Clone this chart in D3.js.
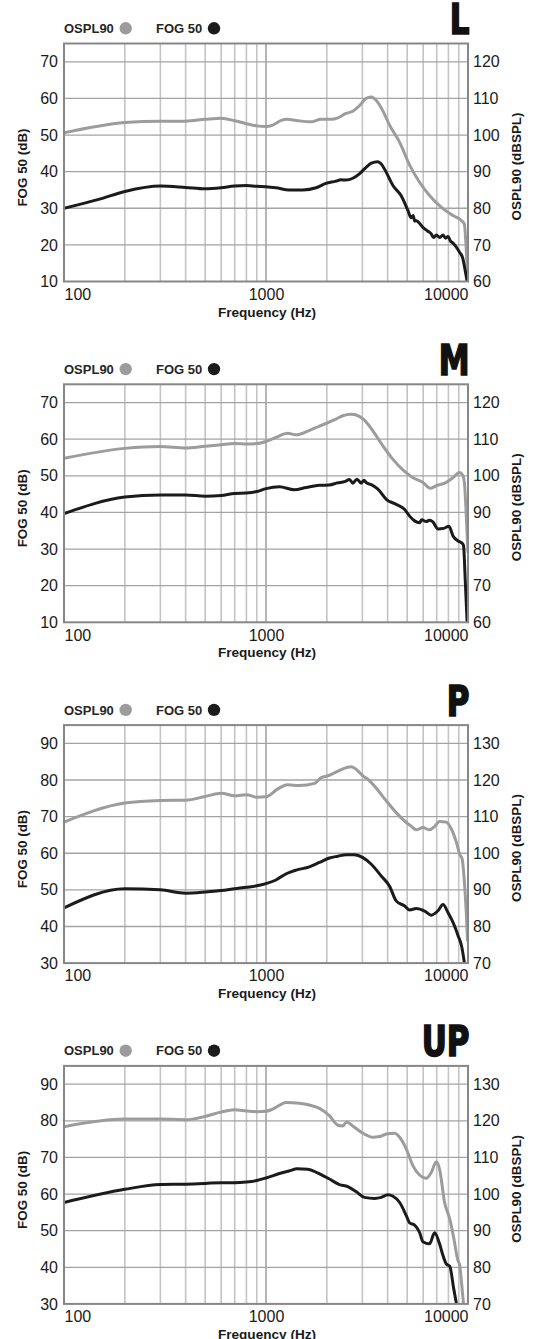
<!DOCTYPE html>
<html>
<head>
<meta charset="utf-8">
<script src="https://cdn.jsdelivr.net/npm/d3@7"></script>
<style>
  html, body { margin: 0; padding: 0; background: #fff; }
  svg { display: block; font-family: "Liberation Sans", Arial, Helvetica, sans-serif; }
</style>
</head>
<body>
<svg id="chart"></svg>
<script>
// values: [frequency Hz, dB]
const L_OSPL90 = [[100,100.6],[200,103.4],[300,103.8],[400,103.8],[500,104.3],[600,104.6],[700,103.9],[800,103.1],[900,102.5],[1000,102.3],[1080,102.7],[1190,104.0],[1280,104.3],[1410,104.0],[1670,103.6],[1870,104.3],[2100,104.3],[2270,104.7],[2490,105.9],[2690,106.5],[2900,108.0],[3130,110.0],[3320,110.4],[3510,109.5],[3790,106.6],[4090,102.7],[4590,98.0],[5140,91.8],[5760,87.1],[6450,83.5],[7370,80.3],[8430,78.0],[9300,76.6],[9600,75.6],[9750,71],[9900,64],[10000,60]];
const L_FOG50 = [[100,30.0],[150,32.5],[200,34.6],[300,36.1],[400,35.7],[500,35.3],[600,35.6],[700,36.1],[800,36.2],[900,36.0],[1000,35.9],[1120,35.6],[1300,35.0],[1520,35.0],[1770,35.6],[1980,36.8],[2220,37.4],[2350,37.8],[2490,37.7],[2690,38.2],[2900,39.4],[3130,41.2],[3320,42.3],[3580,42.7],[3720,42.1],[3940,39.8],[4250,36.2],[4670,33.4],[5040,29.4],[5230,27.4],[5350,28.0],[5450,26.5],[5540,26.6],[5980,24.8],[6300,23.8],[6580,23.0],[6750,22.0],[6970,22.7],[7250,22.0],[7520,22.7],[7750,21.8],[7960,22.3],[8200,21.0],[8430,20.5],[8700,19.6],[9080,18.0],[9400,16.5],[9650,13.5],[9900,10]];

const M_OSPL90 = [[100,104.8],[200,107.5],[300,108.0],[400,107.6],[500,108.1],[600,108.5],[700,108.8],[800,108.7],[900,108.8],[1000,109.4],[1120,110.5],[1280,111.6],[1410,111.2],[1610,112.2],[1840,113.6],[2020,114.5],[2220,115.5],[2400,116.4],[2640,116.8],[2800,116.6],[3070,115.2],[3380,112.3],[3790,108.2],[4250,104.5],[4760,101.6],[5340,99.5],[5980,98.2],[6500,96.6],[6970,97.3],[7810,98.2],[8430,99.5],[9080,100.9],[9400,100.2],[9600,98],[9750,92],[9900,84],[10000,79]];
const M_FOG50 = [[100,39.7],[200,44.2],[300,44.8],[400,44.8],[500,44.4],[600,44.6],[700,45.2],[800,45.3],[900,45.7],[1000,46.5],[1165,47.0],[1380,46.2],[1580,46.8],[1840,47.4],[2060,47.5],[2270,48.1],[2450,48.4],[2590,49.0],[2690,48.0],[2820,49.1],[2960,48.0],[3060,48.8],[3140,48.1],[3320,47.6],[3580,46.4],[3940,43.6],[4410,42.2],[4860,40.8],[5140,39.0],[5440,37.7],[5760,37.2],[5900,38.0],[6210,37.5],[6450,37.9],[6700,37.4],[7100,35.5],[7520,35.6],[8050,36.2],[8430,33.6],[8930,32.2],[9300,31.7],[9500,31.0],[9700,21],[9900,10]];

const P_OSPL90 = [[100,108.5],[200,113.7],[300,114.4],[400,114.5],[500,115.5],[600,116.4],[700,115.7],[800,116.0],[900,115.3],[1000,115.4],[1140,117.5],[1280,118.7],[1460,118.5],[1740,119.1],[1870,120.6],[2060,121.3],[2270,122.4],[2540,123.5],[2640,123.6],[2800,122.9],[3020,121.1],[3200,120.2],[3510,117.8],[3940,114.3],[4410,111.1],[4950,108.4],[5230,107.4],[5540,106.4],[5980,107.0],[6450,106.4],[6830,107.3],[7230,108.7],[7810,108.5],[8260,106.7],[8770,102.9],[9110,99.6],[9350,98.5],[9600,92],[9800,84],[9950,76]];
const P_FOG50 = [[100,45.1],[200,50.3],[300,50.0],[400,49.1],[500,49.4],[600,49.8],[700,50.3],[800,50.7],[900,51.1],[1000,51.7],[1120,52.7],[1260,54.4],[1410,55.4],[1640,56.3],[1840,57.5],[2060,58.7],[2270,59.2],[2490,59.6],[2740,59.6],[3020,58.8],[3320,57.0],[3720,53.8],[4090,51.0],[4410,47.0],[4860,45.6],[5140,44.5],[5540,44.9],[6100,44.2],[6580,43.1],[7100,44.3],[7520,46.0],[7960,43.8],[8430,41.1],[8930,37.5],[9300,34.6],[9600,30]];

const UP_OSPL90 = [[100,118.4],[200,120.5],[300,120.5],[400,120.3],[500,121.2],[600,122.4],[700,123.0],[800,122.7],[900,122.5],[1000,122.6],[1080,123.2],[1260,125.0],[1460,124.8],[1640,124.3],[1840,123.4],[2060,121.4],[2270,118.8],[2400,118.6],[2510,119.7],[2690,118.6],[3020,116.6],[3380,115.5],[3650,115.7],[3940,116.4],[4330,116.6],[4590,115.5],[4950,112.3],[5340,107.7],[5760,105.2],[6210,104.3],[6580,105.9],[6970,108.8],[7230,106.8],[7660,97.7],[8120,93.2],[8500,88.0],[8900,82.0],[9100,80.5],[9300,75.5],[9500,70]];
const UP_FOG50 = [[100,57.7],[200,61.3],[300,62.6],[400,62.7],[500,62.9],[600,63.1],[700,63.1],[800,63.3],[900,63.7],[1000,64.4],[1165,65.6],[1300,66.3],[1430,66.9],[1610,66.8],[1800,65.8],[2060,64.1],[2310,62.6],[2540,62.0],[2800,60.6],[3070,59.1],[3450,58.8],[3720,59.1],[4010,59.8],[4250,59.4],[4590,57.7],[4950,54.1],[5140,52.1],[5440,51.5],[5760,49.5],[5980,47.0],[6450,46.4],[6830,49.4],[7230,46.4],[7520,43.2],[7810,40.9],[8120,40.3],[8500,34.1],[8770,30]];

const panelLetters = ["L", "M", "P", "UP"];
const fogMins = [10, 10, 30, 30];        // bottom of left axis
const osplOffsets = [50, 50, 40, 40];    // right axis = left + offset
const freqLabels = [100, 1000, 10000];
const freqGrid = [200, 300, 400, 500, 600, 700, 800, 900, 1000, 2000, 3000, 4000, 5000, 6000, 7000, 8000, 9000];
const osplSeries = [L_OSPL90, M_OSPL90, P_OSPL90, UP_OSPL90];
const fogSeries = [L_FOG50, M_FOG50, P_FOG50, UP_FOG50];

const width = 534;
const height = 1339;
const plotLeft = 64;
const plotRight = 468;
const plotH = 238;
const firstTop = 43.5;
const pitch = 340.8;

const grayLine = "#9c9c9c";
const blackLine = "#1b1b1b";

const svg = d3.select("#chart")
  .attr("width", width)
  .attr("height", height);

svg.append("rect").attr("width", width).attr("height", height).attr("fill", "#fff");

const x = d3.scaleLog().domain([100, 10000]).range([plotLeft, plotRight]);

panelLetters.forEach((letter, i) => {
  const top = firstTop + i * pitch;
  const bottom = top + plotH;
  const lo = fogMins[i];
  const off = osplOffsets[i];
  const yLeft = d3.scaleLinear().domain([lo, lo + 65]).range([bottom, top]);
  const yRight = d3.scaleLinear().domain([lo + off, lo + off + 65]).range([bottom, top]);
  const leftTicks = d3.range(lo, lo + 61, 10);
  const rightTicks = leftTicks.map(v => v + off);

  const g = svg.append("g");

  // grid
  g.selectAll(".vgrid")
    .data(freqGrid)
    .enter()
    .append("line")
    .attr("x1", d => x(d)).attr("x2", d => x(d))
    .attr("y1", top).attr("y2", bottom)
    .attr("stroke", d => d === 1000 ? "#8e8e8e" : "#c4c4c4")
    .attr("stroke-width", d => d === 1000 ? 1.3 : 1.6);

  g.selectAll(".hgrid")
    .data(leftTicks.slice(1))
    .enter()
    .append("line")
    .attr("x1", plotLeft).attr("x2", plotRight)
    .attr("y1", d => yLeft(d)).attr("y2", d => yLeft(d))
    .attr("stroke", "#a3a3a3")
    .attr("stroke-width", 1.3);

  // curves
  const clipId = "clip" + i;
  g.append("clipPath").attr("id", clipId)
    .append("rect")
    .attr("x", plotLeft).attr("y", top)
    .attr("width", plotRight - plotLeft).attr("height", plotH);

  const osplLine = d3.line()
    .x(d => x(d[0]))
    .y(d => yRight(d[1]))
    .curve(d3.curveMonotoneX);
  const fogLine = d3.line()
    .x(d => x(d[0]))
    .y(d => yLeft(d[1]))
    .curve(d3.curveMonotoneX);

  g.append("path")
    .datum(osplSeries[i])
    .attr("clip-path", `url(#${clipId})`)
    .attr("fill", "none")
    .attr("stroke", grayLine)
    .attr("stroke-width", 3)
    .attr("stroke-linejoin", "round")
    .attr("d", osplLine);

  g.append("path")
    .datum(fogSeries[i])
    .attr("clip-path", `url(#${clipId})`)
    .attr("fill", "none")
    .attr("stroke", blackLine)
    .attr("stroke-width", 3)
    .attr("stroke-linejoin", "round")
    .attr("d", fogLine);

  // frame
  g.append("rect")
    .attr("x", plotLeft).attr("y", top)
    .attr("width", plotRight - plotLeft).attr("height", plotH)
    .attr("fill", "none")
    .attr("stroke", "#878787")
    .attr("stroke-width", 2);

  // axes (labels only)
  const leftAxis = g.append("g")
    .attr("transform", `translate(${plotLeft},0)`)
    .call(d3.axisLeft(yLeft).tickValues(leftTicks).tickSize(0).tickPadding(6));
  const rightAxis = g.append("g")
    .attr("transform", `translate(${plotRight},0)`)
    .call(d3.axisRight(yRight).tickValues(rightTicks).tickSize(0).tickPadding(5));
  const bottomAxis = g.append("g")
    .attr("transform", `translate(0,${bottom})`)
    .call(d3.axisBottom(x).tickValues(freqLabels).tickFormat(d3.format("d")).tickSize(0).tickPadding(7));

  [leftAxis, rightAxis, bottomAxis].forEach(a => {
    a.select(".domain").remove();
    a.selectAll("text")
      .attr("font-family", "'Liberation Sans', Arial, sans-serif")
      .attr("font-size", 16)
      .attr("fill", "#1a1a1a");
  });
  bottomAxis.selectAll("text")
    .attr("text-anchor", d => d === 100 ? "start" : d === 10000 ? "end" : "middle");

  // axis titles
  g.append("text")
    .attr("transform", `translate(27,${top + plotH / 2 + 5}) rotate(-90)`)
    .attr("text-anchor", "middle")
    .attr("font-size", 13.4)
    .attr("font-weight", "bold")
    .attr("fill", "#1a1a1a")
    .text("FOG 50 (dB)");

  g.append("text")
    .attr("transform", `translate(521,${top + plotH / 2 + 4}) rotate(-90)`)
    .attr("text-anchor", "middle")
    .attr("font-size", 13.4)
    .attr("font-weight", "bold")
    .attr("fill", "#1a1a1a")
    .text("OSPL90 (dBSPL)");

  g.append("text")
    .attr("x", 267)
    .attr("y", bottom + 35)
    .attr("text-anchor", "middle")
    .attr("font-size", 13.6)
    .attr("font-weight", "bold")
    .attr("fill", "#1a1a1a")
    .text("Frequency (Hz)");

  // legend
  const ly = top - 15.2;
  g.append("text")
    .attr("x", 64).attr("y", ly + 4.6)
    .attr("font-size", 13)
    .attr("font-weight", "bold")
    .attr("fill", "#262626")
    .text("OSPL90");
  g.append("circle").attr("cx", 125.7).attr("cy", ly).attr("r", 6.2).attr("fill", grayLine);
  g.append("text")
    .attr("x", 156).attr("y", ly + 4.6)
    .attr("font-size", 13)
    .attr("font-weight", "bold")
    .attr("fill", "#262626")
    .text("FOG 50");
  g.append("circle").attr("cx", 214).attr("cy", ly).attr("r", 6.2).attr("fill", blackLine);

  // panel letter, squeezed to a condensed look
  g.append("text")
    .attr("transform", `translate(469.5,${top - 9.5}) scale(0.82,1)`)
    .attr("text-anchor", "end")
    .attr("font-family", "'Liberation Sans Narrow', 'DejaVu Sans Condensed', sans-serif")
    .attr("font-size", 42)
    .attr("font-weight", "bold")
    .attr("fill", "#111")
    .attr("stroke", "#111")
    .attr("stroke-width", 1.6)
    .text(letter);
});
</script>
</body>
</html>
